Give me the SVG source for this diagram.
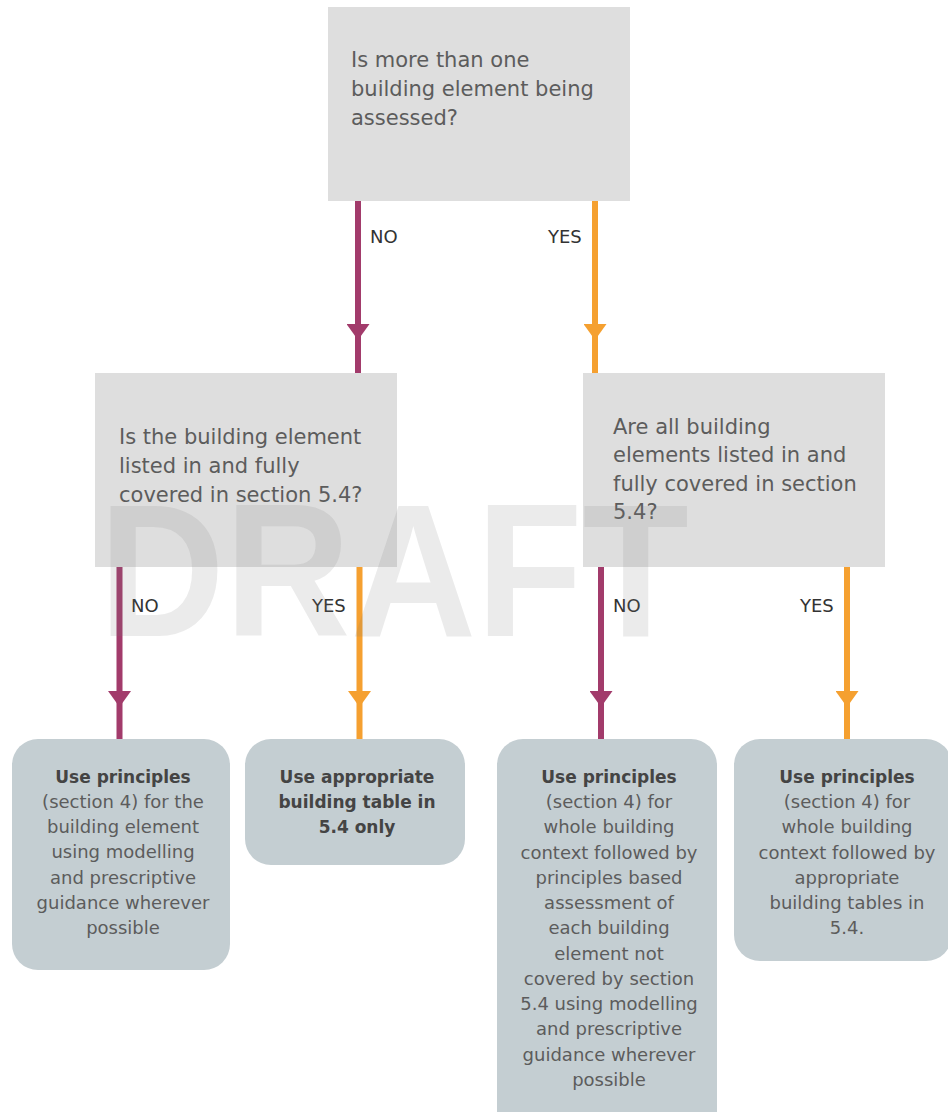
<svg xmlns="http://www.w3.org/2000/svg" width="948" height="1112" viewBox="0 0 948 1112">
<style>
.q{fill:#dedede}
.r{fill:#c4ced2}
.qt{font-family:"DejaVu Sans",sans-serif;font-size:21px;fill:#5c5c5c}
.bt{font-family:"DejaVu Sans",sans-serif;font-size:18px;fill:#5c5c5c;text-anchor:middle}
.bb{font-weight:bold;font-size:17px;fill:#444}
.lb{font-family:"DejaVu Sans",sans-serif;font-size:18px;fill:#333}
.no{stroke:#a23b6b;stroke-width:6;fill:none}
.yes{stroke:#f5a030;stroke-width:6;fill:none}
.wm{font-family:"Liberation Sans",sans-serif;font-weight:bold;font-size:190px;fill:#7a7a7a;fill-opacity:0.15}
</style>
<defs>
<marker id="aNo" viewBox="0 0 16 23" refX="16" refY="11.5" markerUnits="userSpaceOnUse" markerWidth="16" markerHeight="23" orient="auto"><path d="M0,0 L16,11.5 L0,23 z" fill="#a23b6b"/></marker>
<marker id="aYes" viewBox="0 0 16 23" refX="16" refY="11.5" markerUnits="userSpaceOnUse" markerWidth="16" markerHeight="23" orient="auto"><path d="M0,0 L16,11.5 L0,23 z" fill="#f5a030"/></marker>
</defs>
<rect width="948" height="1112" fill="#fff"/>

<g id="q1">
<rect class="q" x="328" y="7" width="302" height="194"/>
<text class="qt"><tspan x="351" y="67">Is more than one</tspan><tspan x="351" y="96">building element being</tspan><tspan x="351" y="125">assessed?</tspan></text>
</g>
<g id="q2">
<rect class="q" x="95" y="373" width="302" height="194"/>
<text class="qt"><tspan x="119" y="444">Is the building element</tspan><tspan x="119" y="473">listed in and fully</tspan><tspan x="119" y="502">covered in section 5.4?</tspan></text>
</g>
<g id="q3">
<rect class="q" x="583" y="373" width="302" height="194"/>
<text class="qt"><tspan x="613" y="434">Are all building</tspan><tspan x="613" y="462">elements listed in and</tspan><tspan x="613" y="491">fully covered in section</tspan><tspan x="613" y="519">5.4?</tspan></text>
</g>

<g id="r1">
<rect class="r" x="12" y="739" width="218" height="231" rx="26"/>
<text class="bt"><tspan class="bb" x="123" y="783">Use principles</tspan><tspan x="123" y="808">(section 4) for the</tspan><tspan x="123" y="833">building element</tspan><tspan x="123" y="858">using modelling</tspan><tspan x="123" y="884">and prescriptive</tspan><tspan x="123" y="909">guidance wherever</tspan><tspan x="123" y="934">possible</tspan></text>
</g>
<g id="r2">
<rect class="r" x="245" y="739" width="220" height="126" rx="26"/>
<text class="bt bb"><tspan x="357" y="783">Use appropriate</tspan><tspan x="357" y="808">building table in</tspan><tspan x="357" y="833">5.4 only</tspan></text>
</g>
<g id="r3">
<rect class="r" x="497" y="739" width="220" height="400" rx="26"/>
<text class="bt"><tspan class="bb" x="609" y="783">Use principles</tspan><tspan x="609" y="808">(section 4) for</tspan><tspan x="609" y="833">whole building</tspan><tspan x="609" y="859">context followed by</tspan><tspan x="609" y="884">principles based</tspan><tspan x="609" y="909">assessment of</tspan><tspan x="609" y="934">each building</tspan><tspan x="609" y="960">element not</tspan><tspan x="609" y="985">covered by section</tspan><tspan x="609" y="1010">5.4 using modelling</tspan><tspan x="609" y="1035">and prescriptive</tspan><tspan x="609" y="1061">guidance wherever</tspan><tspan x="609" y="1086">possible</tspan></text>
</g>
<g id="r4">
<rect class="r" x="734" y="739" width="218" height="222" rx="26"/>
<text class="bt"><tspan class="bb" x="847" y="783">Use principles</tspan><tspan x="847" y="808">(section 4) for</tspan><tspan x="847" y="833">whole building</tspan><tspan x="847" y="859">context followed by</tspan><tspan x="847" y="884">appropriate</tspan><tspan x="847" y="909">building tables in</tspan><tspan x="847" y="934">5.4.</tspan></text>
</g>

<g id="connectors">
<path class="no" d="M358,201 L358,340 L358,373" marker-mid="url(#aNo)"/>
<path class="yes" d="M595,201 L595,340 L595,373" marker-mid="url(#aYes)"/>
<path class="no" d="M119.5,567 L119.5,707 L119.5,739" marker-mid="url(#aNo)"/>
<path class="yes" d="M359.5,567 L359.5,707 L359.5,739" marker-mid="url(#aYes)"/>
<path class="no" d="M601,567 L601,707 L601,739" marker-mid="url(#aNo)"/>
<path class="yes" d="M847,567 L847,707 L847,739" marker-mid="url(#aYes)"/>
<text class="lb" x="370" y="243">NO</text>
<text class="lb" x="548" y="243">YES</text>
<text class="lb" x="131" y="612">NO</text>
<text class="lb" x="312" y="612">YES</text>
<text class="lb" x="613" y="612">NO</text>
<text class="lb" x="800" y="612">YES</text>
</g>

<text class="wm" x="99" y="636" textLength="590" lengthAdjust="spacingAndGlyphs">DRAFT</text>
</svg>
